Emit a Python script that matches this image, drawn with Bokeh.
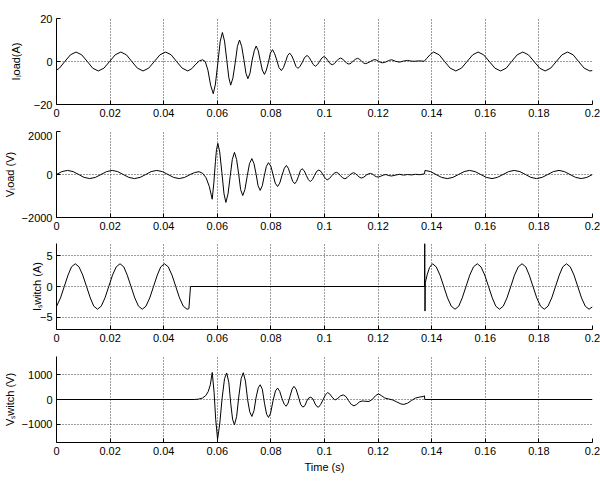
from bokeh.plotting import figure
from bokeh.models import Range1d, FixedTicker
from bokeh.layouts import column
from bokeh.embed import file_html
from bokeh.resources import INLINE

# ---------------- data ----------------
x_ticks = [0, 0.02, 0.04, 0.06, 0.08, 0.1, 0.12, 0.14, 0.16, 0.18, 0.2]
x_tick_labels = ["0", "0.02", "0.04", "0.06", "0.08", "0.1", "0.12", "0.14", "0.16", "0.18", "0.2"]

# Panel 1: I_load (A)
t_iload = [0.0000, 0.0011, 0.0031, 0.0052, 0.0073, 0.0094, 0.0115, 0.0135, 0.0156, 0.0177,
           0.0198, 0.0219, 0.0240, 0.0261, 0.0281, 0.0302, 0.0323, 0.0344, 0.0365, 0.0386,
           0.0407, 0.0428, 0.0448, 0.0469, 0.0490, 0.0505, 0.0520, 0.0533, 0.0545, 0.0555,
           0.0565, 0.0575, 0.0585, 0.0593, 0.0602, 0.0611, 0.0619, 0.0627, 0.0635, 0.0643,
           0.0650, 0.0658, 0.0667, 0.0675, 0.0683, 0.0691, 0.0699, 0.0707, 0.0714, 0.0722,
           0.0730, 0.0738, 0.0745, 0.0753, 0.0760, 0.0768, 0.0776, 0.0783, 0.0791, 0.0798,
           0.0806, 0.0814, 0.0822, 0.0830, 0.0839, 0.0847, 0.0855, 0.0862, 0.0870, 0.0878,
           0.0886, 0.0893, 0.0901, 0.0909, 0.0918, 0.0926, 0.0935, 0.0943, 0.0950, 0.0958,
           0.0966, 0.0974, 0.0982, 0.0990, 0.0998, 0.1006, 0.1013, 0.1021, 0.1029, 0.1037,
           0.1044, 0.1052, 0.1060, 0.1068, 0.1075, 0.1083, 0.1091, 0.1099, 0.1107, 0.1115,
           0.1123, 0.1131, 0.1138, 0.1146, 0.1154, 0.1162, 0.1171, 0.1180, 0.1188, 0.1195,
           0.1202, 0.1209, 0.1216, 0.1225, 0.1234, 0.1243, 0.1251, 0.1265, 0.1280, 0.1295,
           0.1310, 0.1322, 0.1335, 0.1355, 0.1372, 0.1382, 0.1394, 0.1407, 0.1428, 0.1448,
           0.1469, 0.1490, 0.1511, 0.1532, 0.1553, 0.1573, 0.1594, 0.1615, 0.1636, 0.1657,
           0.1678, 0.1698, 0.1719, 0.1740, 0.1761, 0.1782, 0.1803, 0.1823, 0.1844, 0.1865,
           0.1886, 0.1907, 0.1928, 0.1948, 0.1969, 0.1990, 0.2000]
iload = [-4.0, -3.1, 0.0, 3.1, 4.4, 3.1, 0.0, -3.1, -4.4, -3.1,
         0.0, 3.1, 4.4, 3.1, 0.0, -3.1, -4.4, -3.1, 0.0, 3.1,
         4.4, 3.1, 0.0, -3.1, -4.4, -3.3, -1.2, 0.3, 0.8, 0.0,
         -4.0, -11.0, -15.0, -10.5, -0.7, 9.5, 13.5, 9.5, 1.0, -7.5,
         -11.0, -7.8, -0.5, 7.0, 10.0, 7.0, 1.0, -5.5, -8.0, -5.5,
         0.6, 5.0, 7.2, 5.0, 0.6, -4.0, -6.0, -4.0, -0.2, 3.9,
         5.5, 3.6, 0.6, -2.8, -4.2, -2.8, -0.1, 2.7, 3.9, 2.6,
         0.3, -2.2, -3.2, -2.2, -0.2, 1.9, 2.8, 1.9, 0.3, -1.4,
         -2.2, -1.4, 0.1, 1.6, 2.3, 1.6, 0.4, -1.0, -1.5, -1.0,
         0.1, 1.1, 1.6, 1.1, 0.2, -0.8, -1.2, -0.8, 0.2, 1.0,
         1.5, 1.0, 0.2, -0.7, -1.0, -0.6, 0.0, 0.6, 0.9, 0.6,
         0.1, -0.4, -0.6, -0.4, 0.1, 0.6, 0.8, 0.1, -0.3, 0.2,
         0.5, 0.2, 0.1, 0.3, 0.1, 1.5, 3.2, 4.4, 3.1, 0.0,
         -3.1, -4.4, -3.1, 0.0, 3.1, 4.4, 3.1, 0.0, -3.1, -4.4,
         -3.1, 0.0, 3.1, 4.4, 3.1, 0.0, -3.1, -4.4, -3.1, 0.0,
         3.1, 4.4, 3.1, 0.0, -3.1, -4.4, -4.2]

# Panel 2: V_load (V)
t_vload = [0.0000, 0.0020, 0.0041, 0.0062, 0.0083, 0.0103, 0.0124, 0.0145, 0.0166, 0.0187,
           0.0208, 0.0228, 0.0249, 0.0270, 0.0291, 0.0312, 0.0333, 0.0353, 0.0374, 0.0395,
           0.0416, 0.0437, 0.0458, 0.0478, 0.0499, 0.0515, 0.0532, 0.0545, 0.0558, 0.0570,
           0.0581, 0.0587, 0.0593, 0.0597, 0.0602, 0.0609, 0.0617, 0.0625, 0.0632, 0.0640,
           0.0648, 0.0656, 0.0664, 0.0672, 0.0680, 0.0687, 0.0695, 0.0703, 0.0712, 0.0720,
           0.0729, 0.0737, 0.0745, 0.0752, 0.0760, 0.0768, 0.0775, 0.0783, 0.0791, 0.0800,
           0.0808, 0.0816, 0.0825, 0.0833, 0.0841, 0.0850, 0.0858, 0.0865, 0.0873, 0.0881,
           0.0889, 0.0896, 0.0903, 0.0910, 0.0916, 0.0924, 0.0932, 0.0940, 0.0947, 0.0955,
           0.0963, 0.0971, 0.0979, 0.0987, 0.0995, 0.1003, 0.1010, 0.1019, 0.1027, 0.1036,
           0.1044, 0.1052, 0.1060, 0.1068, 0.1076, 0.1084, 0.1092, 0.1100, 0.1108, 0.1116,
           0.1124, 0.1132, 0.1139, 0.1147, 0.1156, 0.1164, 0.1172, 0.1180, 0.1187, 0.1194,
           0.1201, 0.1210, 0.1219, 0.1229, 0.1240, 0.1250, 0.1265, 0.1280, 0.1295, 0.1310,
           0.1325, 0.1340, 0.1355, 0.1373, 0.1375, 0.1396, 0.1416, 0.1437,
           0.1458, 0.1479, 0.1500, 0.1521, 0.1541, 0.1562, 0.1583, 0.1604, 0.1625, 0.1645,
           0.1666, 0.1687, 0.1708, 0.1729, 0.1750, 0.1770, 0.1791, 0.1812, 0.1833, 0.1854,
           0.1875, 0.1895, 0.1916, 0.1937, 0.1958, 0.1979, 0.2000]
vload = [0, 135, 190, 135, 0, -135, -190, -135, 0, 135,
         190, 135, 0, -135, -190, -135, 0, 135, 190, 135,
         0, -135, -190, -135, 0, 90, 130, 60, -150, -550,
         -1150, -400, 600, 1150, 1450, 1050, 100, -900, -1300, -900,
         -100, 700, 1030, 700, 0, -700, -980, -700, -50, 500,
         740, 500, 0, -520, -740, -520, -80, 380, 550, 380,
         0, -400, -560, -400, -60, 290, 420, 290, -10, -310,
         -430, -310, -80, 180, 270, 180, -40, -240, -330, -230,
         -40, 150, 210, 140, -30, -180, -250, -180, -60, 60,
         100, 60, -60, -160, -200, -150, -50, 40, 80, 40,
         -60, -140, -165, -120, -30, 30, 50, 10, -60, -105,
         -115, -80, -30, 0, -50, -70, -30, 10, -30, 0,
         -20, 10, -10, 30, 190, 135, 0, -135,
         -190, -135, 0, 135, 190, 135, 0, -135, -190, -135,
         0, 135, 190, 135, 0, -135, -190, -135, 0, 135,
         190, 135, 0, -135, -190, -135, 0]

# Panel 3: I_switch (A)
t_iswitch = [0.0000, 0.0015, 0.0029, 0.0043, 0.0056, 0.0070, 0.0084, 0.0098, 0.0112, 0.0126,
             0.0139, 0.0153, 0.0167, 0.0181, 0.0195, 0.0209, 0.0223, 0.0237, 0.0251, 0.0264,
             0.0278, 0.0292, 0.0306, 0.0320, 0.0334, 0.0348, 0.0362, 0.0376, 0.0389, 0.0403,
             0.0417, 0.0431, 0.0445, 0.0459, 0.0473, 0.0487, 0.0494, 0.0500, 0.1373, 0.1374,
             0.1375, 0.1376, 0.1383, 0.1392, 0.1403, 0.1417, 0.1431, 0.1445, 0.1459, 0.1473,
             0.1487, 0.1501, 0.1514, 0.1528, 0.1542, 0.1556, 0.1570, 0.1584, 0.1598, 0.1612,
             0.1626, 0.1639, 0.1653, 0.1667, 0.1681, 0.1695, 0.1709, 0.1723, 0.1737, 0.1751,
             0.1764, 0.1778, 0.1792, 0.1806, 0.1820, 0.1834, 0.1848, 0.1862, 0.1876, 0.1889,
             0.1903, 0.1917, 0.1931, 0.1945, 0.1959, 0.1973, 0.1987, 0.2000]
iswitch = [-3.25, -1.85, 0.0, 1.85, 3.2, 3.7, 3.2, 1.85, 0.0, -1.85,
           -3.2, -3.7, -3.2, -1.85, 0.0, 1.85, 3.2, 3.7, 3.2, 1.85,
           0.0, -1.85, -3.2, -3.7, -3.2, -1.85, 0.0, 1.85, 3.2, 3.7,
           3.2, 1.85, 0.0, -1.85, -3.2, -3.7, -3.6, 0.0, 0.0, 7.0,
           -4.0, 0.6, 1.9, 3.1, 3.7, 3.2, 1.85, 0.0, -1.85, -3.2,
           -3.7, -3.2, -1.85, 0.0, 1.85, 3.2, 3.7, 3.2, 1.85, 0.0,
           -1.85, -3.2, -3.7, -3.2, -1.85, 0.0, 1.85, 3.2, 3.7, 3.2,
           1.85, 0.0, -1.85, -3.2, -3.7, -3.2, -1.85, 0.0, 1.85, 3.2,
           3.7, 3.2, 1.85, 0.0, -1.85, -3.2, -3.7, -3.3]

# Panel 4: V_switch (V)
t_vswitch = [0.0000, 0.0515, 0.0530, 0.0545, 0.0557, 0.0566, 0.0574, 0.0581, 0.0588, 0.0594,
             0.0601, 0.0609, 0.0618, 0.0627, 0.0635, 0.0643, 0.0650, 0.0657, 0.0664, 0.0672,
             0.0680, 0.0689, 0.0697, 0.0705, 0.0713, 0.0721, 0.0729, 0.0737, 0.0745, 0.0753,
             0.0760, 0.0768, 0.0776, 0.0784, 0.0791, 0.0799, 0.0808, 0.0817, 0.0825, 0.0833,
             0.0841, 0.0850, 0.0857, 0.0864, 0.0872, 0.0879, 0.0886, 0.0894, 0.0903, 0.0911,
             0.0919, 0.0927, 0.0934, 0.0941, 0.0949, 0.0957, 0.0965, 0.0972, 0.0978, 0.0986,
             0.0995, 0.1004, 0.1012, 0.1020, 0.1028, 0.1037, 0.1042, 0.1050, 0.1060, 0.1070,
             0.1080, 0.1090, 0.1100, 0.1110, 0.1120, 0.1130, 0.1140, 0.1150, 0.1166, 0.1178,
             0.1190, 0.1201, 0.1212, 0.1225, 0.1240, 0.1255, 0.1270, 0.1285, 0.1296, 0.1310,
             0.1325, 0.1340, 0.1355, 0.1368, 0.1373, 0.1374, 0.2000]
vswitch = [0, 0, 15, 60, 160, 320, 600, 1100, 300, -800,
           -1620, -1000, 50, 850, 1080, 700, -150, -800, -1030, -700,
           100, 850, 1090, 750, 0, -500, -690, -450, 100, 480,
           600, 420, -150, -600, -730, -550, -50, 350, 465, 330,
           50, -200, -275, -150, 150, 420, 535, 420, 100, -200,
           -310, -250, -60, 60, 95, 20, -180, -290, -310, -200,
           0, 200, 280, 220, 100, 0, -10, 50, 150, 185,
           120, -50, -200, -260, -200, -100, -60, -70, -80, 0,
           150, 230, 160, 60, 20, -20, -100, -180, -200, -150,
           -40, 60, 100, 120, 150, 0, 0]

panels = [
    dict(t=t_iload, v=iload, yr=(-20, 20), yt=[-20, 0, 20], yl=["\u221220", "0", "20"],
         label="I\u2097oad(A)", so=9),
    dict(t=t_vload, v=vload, yr=(-2000, 2000), yt=[-2000, 0, 2000], yl=["\u22122000", "0", "2000"],
         label="V\u2097oad (V)", so=3),
    dict(t=t_iswitch, v=iswitch, yr=(-7, 7), yt=[-5, 0, 5], yl=["\u22125", "0", "5"],
         label="I\u209bwitch (A)", so=-6),
    dict(t=t_vswitch, v=vswitch, yr=(-1750, 1750), yt=[-1000, 0, 1000], yl=["\u22121000", "0", "1000"],
         label="V\u209bwitch (V)", so=3),
]

FONT = "Liberation Sans"
FS = "11px"
borders = [(18, 27), (0, 26), (0, 27), (0, 49)]

figs = []
for i, pd_ in enumerate(panels):
    top, bottom = borders[i]
    p = figure(frame_width=536, frame_height=86,
               min_border_left=54, min_border_right=10,
               min_border_top=top, min_border_bottom=bottom,
               x_range=Range1d(0, 0.2), y_range=Range1d(*pd_["yr"]),
               output_backend="svg", toolbar_location=None)
    p.outline_line_color = None
    p.background_fill_color = "white"
    p.border_fill_color = "white"
    p.line(pd_["t"], pd_["v"], line_color="black", line_width=1)

    p.xaxis.ticker = FixedTicker(ticks=x_ticks)
    p.xaxis.major_label_overrides = {t: s for t, s in zip(x_ticks, x_tick_labels)}
    p.yaxis.ticker = FixedTicker(ticks=pd_["yt"])
    p.yaxis.major_label_overrides = {t: s for t, s in zip(pd_["yt"], pd_["yl"])}
    p.xgrid.ticker = FixedTicker(ticks=x_ticks)
    p.ygrid.ticker = FixedTicker(ticks=pd_["yt"])
    for g in (p.xgrid, p.ygrid):
        g.grid_line_color = "#3a3a3a"
        g.grid_line_dash = "1 2"
        g.grid_line_width = 1
    for ax in (p.xaxis, p.yaxis):
        ax.axis_line_color = "black"
        ax.major_tick_line_color = "black"
        ax.major_tick_in = 4
        ax.major_tick_out = 0
        ax.minor_tick_line_color = None
        ax.major_label_text_font = FONT
        ax.major_label_text_font_size = FS
        ax.major_label_text_color = "black"
        ax.major_label_standoff = 4
    p.yaxis.axis_label = pd_["label"]
    p.yaxis.axis_label_text_font = FONT
    p.yaxis.axis_label_text_font_size = FS
    p.yaxis.axis_label_text_font_style = "normal"
    p.yaxis.axis_label_text_color = "black"
    p.yaxis.axis_label_standoff = pd_["so"]
    if i == 3:
        p.xaxis.axis_label = "Time (s)"
        p.xaxis.axis_label_text_font = FONT
        p.xaxis.axis_label_text_font_size = FS
        p.xaxis.axis_label_text_font_style = "normal"
        p.xaxis.axis_label_text_color = "black"
        p.xaxis.axis_label_standoff = 3
    figs.append(p)

layout = column(*figs, spacing=0)
open("out.html", "w").write(file_html(layout, INLINE))
